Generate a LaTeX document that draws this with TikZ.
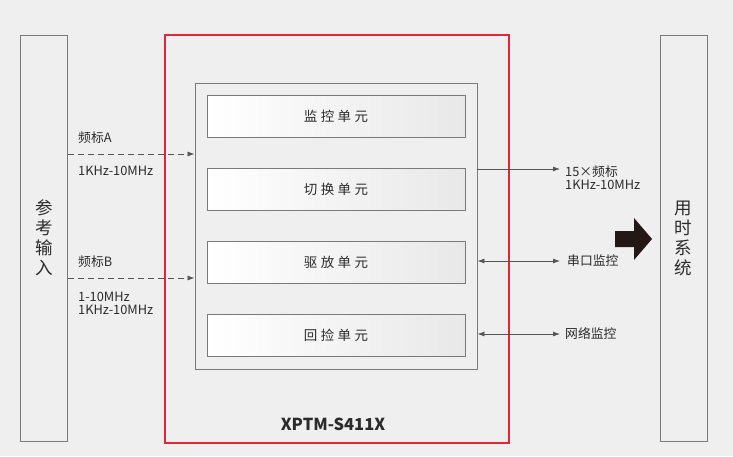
\documentclass[tikz,border=0pt]{standalone}
\usepackage{fontspec}
\setmainfont{Noto Sans CJK SC}
\usetikzlibrary{arrows.meta}
\definecolor{bg}{RGB}{239,239,239}
\definecolor{edge}{RGB}{122,122,122}
\definecolor{redbox}{RGB}{220,40,55}
\definecolor{txt}{RGB}{43,43,43}
\definecolor{linec}{RGB}{85,85,85}
\definecolor{arrowc}{RGB}{35,24,21}
\begin{document}
\begin{tikzpicture}[x=1pt,y=-1pt,
  sidebox/.style={draw=edge,line width=0.9pt,minimum width=47pt,minimum height=406pt,inner sep=0pt,text=txt,font=\fontsize{17.5}{20}\selectfont,align=center},
  unitbox/.style={draw=edge,line width=0.9pt,minimum width=258pt,minimum height=42pt,inner sep=0pt,left color=white,right color=black!9,text=txt,font=\fontsize{13.5}{15}\selectfont},
  lbl/.style={anchor=west,inner sep=0pt,text=txt,font=\fontsize{12.8}{15}\selectfont,align=left},
  sig/.style={draw=linec,line width=0.8pt,-{Latex[length=7pt,width=5pt]}},
  dsig/.style={sig,dash pattern=on 6pt off 4pt},
  bsig/.style={draw=linec,line width=0.8pt,{Latex[length=7pt,width=5pt]}-{Latex[length=7pt,width=5pt]}}
]
\useasboundingbox[fill=bg] (0,0) rectangle (733,456);
\node[sidebox] (lbox) at (44,238) {参\\考\\输\\入};
\node[sidebox] (rbox) at (683.5,238) {用\\时\\系\\统};
\draw[redbox,line width=1.1pt] (165,35) rectangle (509,443);
\node[draw=edge,line width=0.9pt,minimum width=282pt,minimum height=286pt,inner sep=0pt] (inner) at (336,226) {};
\node[unitbox] (u1) at (336,116) {监\hspace{3.5pt}控\hspace{3.5pt}单\hspace{3.5pt}元};
\node[unitbox] (u2) at (336,189) {切\hspace{3.5pt}换\hspace{3.5pt}单\hspace{3.5pt}元};
\node[unitbox] (u3) at (336,262) {驱\hspace{3.5pt}放\hspace{3.5pt}单\hspace{3.5pt}元};
\node[unitbox] (u4) at (336,335) {回\hspace{3.5pt}捡\hspace{3.5pt}单\hspace{3.5pt}元};
\node[inner sep=0pt,text=txt,font=\fontsize{16.5}{18}\selectfont\bfseries] (title) at (333,424) {XPTM-S411X};
% left inputs
\coordinate (ya) at (0,154);
\coordinate (yb) at (0,278);
\draw[dsig] (lbox.east |- ya) -- (inner.west |- ya);
\draw[dsig] (lbox.east |- yb) -- (inner.west |- yb);
\node[lbl] (la1) at (78,138) {频标A};
\node[lbl] (la2) at (78,171) {1KHz-10MHz};
\node[lbl] (lb1) at (78,262) {频标B};
\node[lbl,align=left] (lb2) at (78,303) {1-10MHz\\[-2pt]1KHz-10MHz};
% right outputs
\coordinate (r1) at (560,169);
\coordinate (r2) at (560,261);
\coordinate (r3) at (560,334);
\draw[sig] (inner.east |- r1) -- (r1);
\draw[bsig] (inner.east |- r2) -- (r2);
\draw[bsig] (inner.east |- r3) -- (r3);
\node[lbl,align=left] (o1) at (565,178) {15×频标\\[-2pt]1KHz-10MHz};
\node[lbl] (o2) at (567,261) {串口监控};
\node[lbl] (o3) at (565,334) {网络监控};
% big arrow
\fill[arrowc] (615,231) -- (634,231) -- (634,218) -- (652,239) -- (634,260) -- (634,247) -- (615,247) -- cycle;
\end{tikzpicture}
\end{document}
